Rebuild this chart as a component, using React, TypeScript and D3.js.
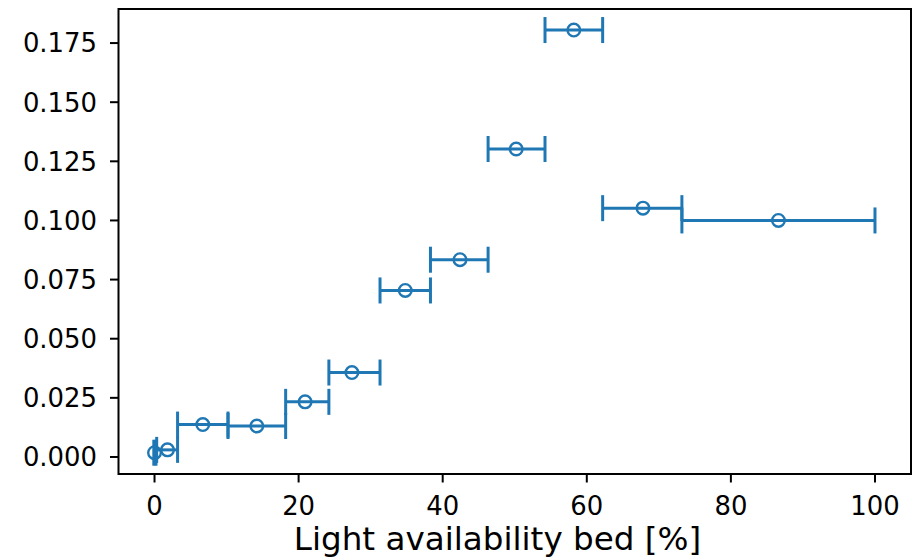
import React from "react";
import * as d3 from "d3";

const xCenters = [0.0, 1.8, 6.7, 14.2, 20.9, 27.4, 34.8, 42.4, 50.2, 58.2, 67.8, 86.6];
const yValues = [0.0018, 0.003, 0.0137, 0.0131, 0.0233, 0.0357, 0.0704, 0.0834, 0.1302, 0.1805, 0.1052, 0.1];
const xLow = [-0.1, 0.3, 3.2, 10.2, 18.2, 24.2, 31.3, 38.3, 46.3, 54.2, 62.2, 73.2];
const xHigh = [0.2, 3.2, 10.2, 18.2, 24.2, 31.3, 38.3, 46.3, 54.2, 62.2, 73.2, 100.0];
const xTicks = [0, 20, 40, 60, 80, 100];
const yTicks = [0, 0.025, 0.05, 0.075, 0.1, 0.125, 0.15, 0.175];

const W = 912;
const H = 559;
const L = 118.5, R = 911, T = 9, B = 474;
const COLOR = "#1f77b4";
const FONT = "DejaVu Sans, sans-serif";

export default function App() {
  const x = d3.scaleLinear().domain([-5, 105]).range([L, R]);
  const y = d3.scaleLinear().domain([-0.0072, 0.1894]).range([B, T]);
  const cap = 13;
  return (
    <svg
      width={W}
      height={H}
      style={{ position: "fixed", left: 0, top: 0, background: "#fff" }}
      fontFamily={FONT}
    >
      <rect x={0} y={0} width={W} height={H} fill="#fff" />
      {xCenters.map((xc, i) => {
        const cy = y(yValues[i]);
        return (
          <g key={i} stroke={COLOR} fill="none" strokeWidth={3}>
            <line x1={x(xLow[i])} x2={x(xHigh[i])} y1={cy} y2={cy} />
            <line x1={x(xLow[i])} x2={x(xLow[i])} y1={cy - cap} y2={cy + cap} />
            <line x1={x(xHigh[i])} x2={x(xHigh[i])} y1={cy - cap} y2={cy + cap} />
            <circle cx={x(xc)} cy={cy} r={6.3} strokeWidth={2.4} />
          </g>
        );
      })}
      <rect x={L} y={T} width={R - L} height={B - T} fill="none" stroke="#000" strokeWidth={2} />
      {yTicks.map((t) => (
        <g key={"y" + t}>
          <line x1={L - 8.5} x2={L} y1={y(t)} y2={y(t)} stroke="#000" strokeWidth={2} />
          <text x={L - 21.5} y={y(t)} dy="0.36em" textAnchor="end" fontSize={25.9} fill="#000">
            {d3.format(".3f")(t)}
          </text>
        </g>
      ))}
      {xTicks.map((t) => (
        <g key={"x" + t}>
          <line x1={x(t)} x2={x(t)} y1={B} y2={B + 8.5} stroke="#000" strokeWidth={2} />
          <text x={x(t)} y={515} textAnchor="middle" fontSize={25.9} fill="#000">
            {t}
          </text>
        </g>
      ))}
      <text x={497.5} y={550} textAnchor="middle" fontSize={32.6} fill="#000">
        Light availability bed [%]
      </text>
    </svg>
  );
}
